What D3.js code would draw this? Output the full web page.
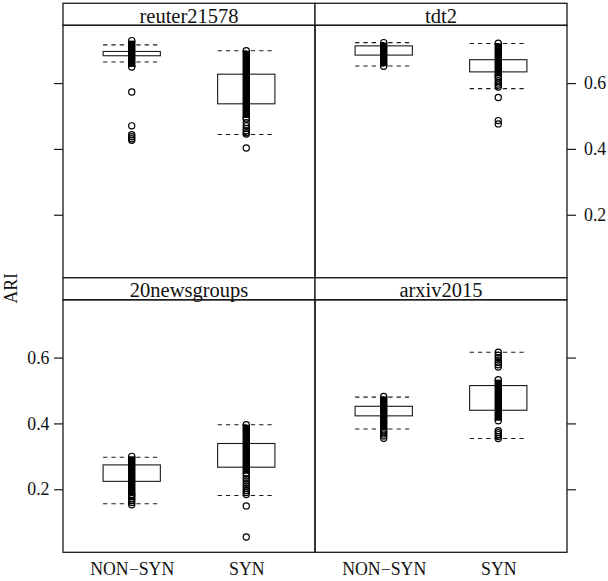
<!DOCTYPE html>
<html>
<head>
<meta charset="utf-8">
<script src="https://cdn.jsdelivr.net/npm/d3@7/dist/d3.min.js"></script>
<style>
  body { margin: 0; background: #fff; }
  svg { display: block; }
</style>
</head>
<body>
<svg id="chart" width="608" height="581" font-family="Liberation Serif"></svg>
<script>
// data, order of panels: top-left, top-right, bottom-left, bottom-right
const panelNames = ['reuter21578', 'tdt2', '20newsgroups', 'arxiv2015']
const groups = ['NON\u2212SYN', 'SYN']
const yTicks = [0.2, 0.4, 0.6]

// box edges (NON-SYN, SYN) per panel
const boxLow = [[0.683, 0.537], [0.685, 0.634], [0.224, 0.267], [0.423, 0.440]]
const boxHigh = [[0.696, 0.627], [0.713, 0.671], [0.274, 0.339], [0.452, 0.515]]
// dashed lines
const fenceLow = [[0.664, 0.444], [0.652, 0.583], [0.156, 0.181], [0.383, 0.354]]
const fenceHigh = [[0.716, 0.698], [0.723, 0.720], [0.297, 0.396], [0.480, 0.616]]
// stretches where the circles pile up into a solid bar
const runLow = [[0.649, 0.494], [0.651, 0.620], [0.182, 0.248], [0.380, 0.408]]
const runHigh = [[0.729, 0.698], [0.723, 0.721], [0.300, 0.396], [0.482, 0.533]]
// circles that can still be told apart
const points = [
  [[0.573, 0.470, 0.443, 0.437, 0.431, 0.426],
   [0.490, 0.480, 0.470, 0.462, 0.455, 0.449, 0.445, 0.403]],
  [[],
   [0.615, 0.607, 0.600, 0.594, 0.588, 0.556, 0.486, 0.476]],
  [[0.178, 0.172, 0.166, 0.160, 0.153],
   [0.240, 0.232, 0.225, 0.218, 0.210, 0.203, 0.196, 0.190, 0.184, 0.149, 0.055]],
  [[0.374, 0.368, 0.362, 0.355],
   [0.616, 0.607, 0.600, 0.593, 0.585, 0.578, 0.571, 0.378, 0.372, 0.366, 0.360, 0.354]]
]

const padLeft = 63
const padTop = 3.3
const panelW = 252
const stripH = 22
const panelH = 252.5
const ink = '#1a1a1a'
const r = 3.1
const serif = 'Liberation Serif'

const svg = d3.select('#chart')

const x = d3.scalePoint().domain(groups).range([0, panelW]).padding(0.6)
const boxW = x.step() * 0.5

function styleAxis (a) {
  a.select('.domain').remove()
  a.attr('font-family', serif).attr('font-size', null)
  a.selectAll('line').attr('stroke', ink).attr('stroke-width', 1.2)
  a.selectAll('text').attr('font-size', 17.8).attr('fill', '#111')
}

panelNames.forEach((name, i) => {
  const col = i % 2
  const row = Math.floor(i / 2)
  const x0 = padLeft + col * panelW
  const y0 = padTop + row * (stripH + panelH)
  const g = svg.append('g').attr('transform', `translate(${x0},${y0 + stripH})`)

  const y = d3.scaleLinear().domain([0.0085, 0.7755]).range([panelH, 0])

  // strip
  svg.append('rect')
     .attr('x', x0).attr('y', y0)
     .attr('width', panelW).attr('height', stripH)
     .attr('fill', '#fff').attr('stroke', ink).attr('stroke-width', 1.3)
  svg.append('text')
     .attr('x', x0 + panelW / 2).attr('y', y0 + stripH - 2.8)
     .attr('text-anchor', 'middle')
     .attr('font-size', 20.5)
     .text(name)

  groups.forEach((grp, k) => {
    const cx = x(grp)
    g.append('rect')
     .attr('x', cx - boxW / 2).attr('y', y(boxHigh[i][k]))
     .attr('width', boxW).attr('height', y(boxLow[i][k]) - y(boxHigh[i][k]))
     .attr('fill', 'none').attr('stroke', ink).attr('stroke-width', 1.1)
    ;[fenceLow[i][k], fenceHigh[i][k]].forEach(v => {
      g.append('line')
       .attr('x1', cx - boxW / 2).attr('x2', cx + boxW / 2)
       .attr('y1', y(v)).attr('y2', y(v))
       .attr('stroke', ink).attr('stroke-width', 1.1)
       .attr('stroke-dasharray', '4.3,4')
    })
    // solid pile of circles
    g.append('line')
     .attr('x1', cx).attr('x2', cx)
     .attr('y1', y(runLow[i][k])).attr('y2', y(runHigh[i][k]))
     .attr('stroke', '#000').attr('stroke-width', 2 * r + 1.3)
    const pts = points[i][k].concat([runLow[i][k], runHigh[i][k]])
    g.selectAll(null)
     .data(pts)
     .enter().append('circle')
     .attr('cx', cx).attr('cy', d => y(d))
     .attr('r', r)
     .attr('fill', 'none').attr('stroke', '#000').attr('stroke-width', 1.2)
  })

  // panel border
  svg.append('rect')
     .attr('x', x0).attr('y', y0 + stripH)
     .attr('width', panelW).attr('height', panelH)
     .attr('fill', 'none').attr('stroke', ink).attr('stroke-width', 1.3)

  // y axis, alternating like lattice
  if (col === 0) {
    const ax = d3.axisLeft(y).tickValues(yTicks).tickSize(9).tickPadding(4.5)
                 .tickFormat(row === 1 ? d3.format('.1f') : '')
    g.append('g').call(ax).call(styleAxis)
  } else {
    const ax = d3.axisRight(y).tickValues(yTicks).tickSize(9).tickPadding(8)
                 .tickFormat(row === 0 ? d3.format('.1f') : '')
    g.append('g').attr('transform', `translate(${panelW},0)`).call(ax).call(styleAxis)
  }
  if (row === 1) {
    g.append('g').attr('transform', `translate(0,${panelH})`)
     .call(d3.axisBottom(x).tickSize(0).tickPadding(10))
     .call(styleAxis)
  }
})

svg.append('text')
   .attr('transform', `translate(17,${padTop + stripH + panelH + stripH / 2 - 0.5}) rotate(-90)`)
   .attr('text-anchor', 'middle')
   .attr('font-size', 17.8)
   .text('ARI')

// every text in the serif face
svg.selectAll('text').attr('font-family', serif).attr('fill', '#111')
</script>
</body>
</html>
